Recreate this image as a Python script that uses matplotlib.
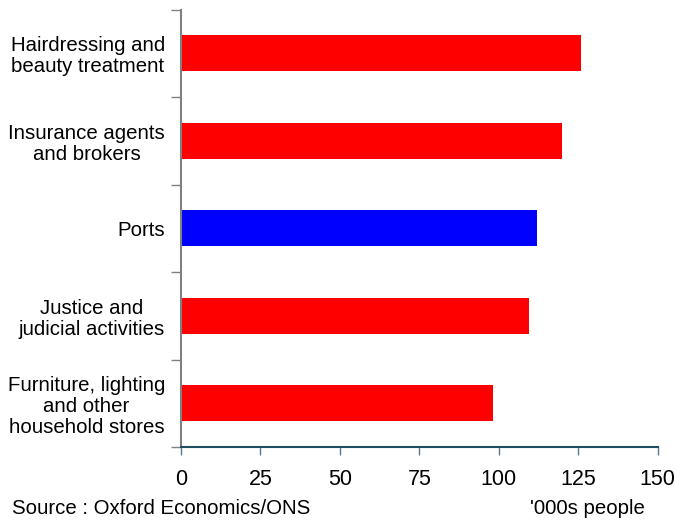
import matplotlib
matplotlib.use("Agg")
import matplotlib.pyplot as plt
import numpy as np

categories = ["Hairdressing and\nbeauty treatment",
              "Insurance agents\nand brokers",
              "Ports",
              "Justice and\njudicial activities",
              "Furniture, lighting\nand other\nhousehold stores"]
values = [126, 120, 112, 109.5, 98.2]
colors = ["#FF0000", "#FF0000", "#0000FF", "#FF0000", "#FF0000"]
xticks = [0, 25, 50, 75, 100, 125, 150]

plt.rcParams['font.family'] = ['Liberation Sans', 'DejaVu Sans']

fig = plt.figure(figsize=(6.75, 5.21), dpi=100)
ax = fig.add_axes([181/675, 1 - 447/521, (657.7 - 181)/675, (447 - 9.5)/521])

n = len(categories)
ypos = np.arange(n)[::-1]
ax.barh(ypos, values, height=0.41, color=colors, zorder=2)

ax.set_xlim(0, 150)
ax.set_ylim(-0.5, n - 0.5)
ax.set_xticks(xticks)
ax.set_xticklabels([str(t) for t in xticks], fontsize=15.5)
ax.set_yticks(ypos)
ax.set_yticklabels(categories, fontsize=14.7, multialignment='center', linespacing=1.15)
ax.set_yticks(np.arange(n + 1) - 0.5, minor=True)

ax.tick_params(axis='y', which='major', length=0, pad=11.5)
ax.tick_params(axis='y', which='minor', length=7, width=1, color='#808080', direction='out')
ax.tick_params(axis='x', which='major', length=6, width=1, color='#5a7a90', direction='out', pad=10)

for s in ['top', 'right']:
    ax.spines[s].set_visible(False)
ax.spines['left'].set_color('#808080')
ax.spines['left'].set_linewidth(1.5)
ax.spines['bottom'].set_color('#1f4e60')
ax.spines['bottom'].set_linewidth(1.5)

fig.text(12/675, 1 - 508/521, "Source : Oxford Economics/ONS", fontsize=14.7, ha='left', va='center')
fig.text(530/675, 1 - 508/521, "'000s people", fontsize=14.7, ha='left', va='center')

fig.savefig("out.png", dpi=100)
